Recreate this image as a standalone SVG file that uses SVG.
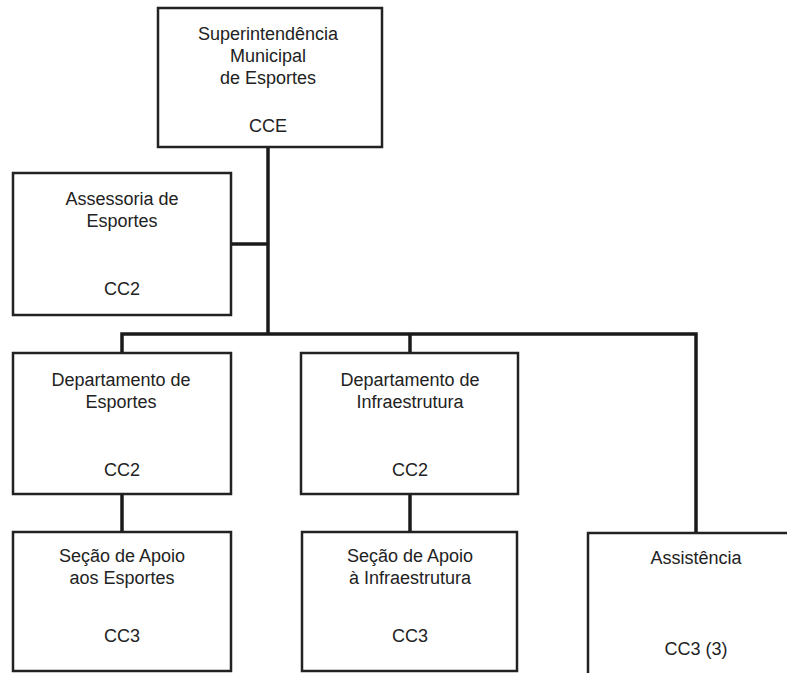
<svg xmlns="http://www.w3.org/2000/svg" width="787" height="673" viewBox="0 0 787 673">
<style>
.box{fill:#fff;stroke:#222;stroke-width:2.5}
.t{font-family:"Liberation Sans",Arial,sans-serif;font-size:18px;fill:#222;text-anchor:middle}
.c{fill:none;stroke:#1a1a1a;stroke-width:3.5}
</style>
<rect width="787" height="673" fill="#fff"/>
<g id="connectors">
<path class="c" d="M268 147 V334"/>
<path class="c" d="M231 244 H268"/>
<path class="c" d="M122 353 V334 H696 V533"/>
<path class="c" d="M410 334 V353"/>
<path class="c" d="M122 494 V532"/>
<path class="c" d="M410 494 V532"/>
</g>
<g id="n-super">
<rect class="box" x="158" y="8" width="224" height="139"/>
<text class="t" x="268" y="40">Superintendência</text>
<text class="t" x="268" y="62">Municipal</text>
<text class="t" x="268" y="84">de Esportes</text>
<text class="t" x="268" y="132">CCE</text>
</g>
<g id="n-assessoria">
<rect class="box" x="13" y="173" width="218" height="142"/>
<text class="t" x="122" y="205">Assessoria de</text>
<text class="t" x="122" y="227">Esportes</text>
<text class="t" x="122" y="295">CC2</text>
</g>
<g id="n-dept-esp">
<rect class="box" x="13" y="353" width="218" height="141"/>
<text class="t" x="121" y="386">Departamento de</text>
<text class="t" x="121" y="408">Esportes</text>
<text class="t" x="122" y="476">CC2</text>
</g>
<g id="n-dept-inf">
<rect class="box" x="301" y="353" width="217" height="141"/>
<text class="t" x="410" y="386">Departamento de</text>
<text class="t" x="410" y="408">Infraestrutura</text>
<text class="t" x="410" y="476">CC2</text>
</g>
<g id="n-secao-esp">
<rect class="box" x="13" y="532" width="218" height="139"/>
<text class="t" x="122" y="562">Seção de Apoio</text>
<text class="t" x="122" y="584">aos Esportes</text>
<text class="t" x="122" y="642">CC3</text>
</g>
<g id="n-secao-inf">
<rect class="box" x="302" y="532" width="215" height="139"/>
<text class="t" x="410" y="562">Seção de Apoio</text>
<text class="t" x="410" y="584">à Infraestrutura</text>
<text class="t" x="410" y="642">CC3</text>
</g>
<g id="n-assistencia">
<rect class="box" x="588" y="533" width="230" height="150"/>
<text class="t" x="696" y="564">Assistência</text>
<text class="t" x="696" y="655">CC3 (3)</text>
</g>
</svg>
